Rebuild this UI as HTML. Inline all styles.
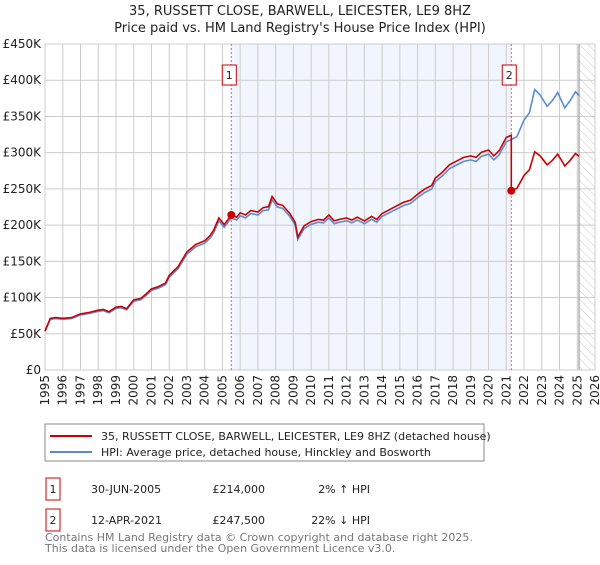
<!DOCTYPE html>
<html><head><meta charset="utf-8"><style>
body{margin:0;background:#fff;font-family:"Liberation Sans","DejaVu Sans",sans-serif;overflow:hidden;}
svg text{font-family:"DejaVu Sans","Liberation Sans",sans-serif;}
</style></head><body>
<svg width="600" height="560" viewBox="0 0 600 560" xmlns="http://www.w3.org/2000/svg">
<defs><pattern id="hatch" width="6" height="6" patternUnits="userSpaceOnUse" patternTransform="rotate(-45)"><line x1="0" y1="0" x2="0" y2="6" stroke="#bbb" stroke-width="0.8"/></pattern></defs>
<text x="300" y="15" text-anchor="middle" font-size="13" fill="#222">35, RUSSETT CLOSE, BARWELL, LEICESTER, LE9 8HZ</text>
<text x="300" y="32" text-anchor="middle" font-size="13" fill="#222">Price paid vs. HM Land Registry's House Price Index (HPI)</text>
<g id="plot"></g>
<rect x="45" y="424" width="439" height="37" fill="#fff" stroke="#888"/>
<line x1="50" y1="436" x2="92" y2="436" stroke="#cc0000" stroke-width="2"/>
<text x="101" y="440" font-size="11" fill="#222">35, RUSSETT CLOSE, BARWELL, LEICESTER, LE9 8HZ (detached house)</text>
<line x1="50" y1="452" x2="92" y2="452" stroke="#5b8bd0" stroke-width="2"/>
<text x="101" y="456" font-size="11" fill="#222">HPI: Average price, detached house, Hinckley and Bosworth</text>
<g font-size="11" fill="#222">
<rect x="46" y="478" width="14" height="22" fill="#fff" stroke="#cc0000"/>
<text x="53" y="493" text-anchor="middle">1</text>
<text x="91" y="493">30-JUN-2005</text>
<text x="265" y="493" text-anchor="end">£214,000</text>
<text x="370" y="493" text-anchor="end">2% ↑ HPI</text>
<rect x="46" y="509" width="14" height="22" fill="#fff" stroke="#cc0000"/>
<text x="53" y="524" text-anchor="middle">2</text>
<text x="91" y="524">12-APR-2021</text>
<text x="265" y="524" text-anchor="end">£247,500</text>
<text x="370" y="524" text-anchor="end">22% ↓ HPI</text>
</g>
<text x="45" y="541" font-size="11" fill="#777">Contains HM Land Registry data © Crown copyright and database right 2025.</text>
<text x="45" y="552" font-size="11" fill="#777">This data is licensed under the Open Government Licence v3.0.</text>
</svg>
<script>
const hpiYears=[1995,1995.3,1995.6,1996,1996.5,1997,1997.5,1998,1998.3,1998.6,1999,1999.3,1999.6,2000,2000.4,2000.7,2001,2001.4,2001.8,2002,2002.5,2003,2003.5,2004,2004.3,2004.5,2004.8,2005.1,2005.5,2005.8,2006,2006.3,2006.6,2007,2007.3,2007.6,2007.8,2008.1,2008.4,2008.8,2009.1,2009.25,2009.6,2010,2010.4,2010.7,2011,2011.3,2011.6,2012,2012.3,2012.6,2013,2013.4,2013.7,2014,2014.4,2014.8,2015.2,2015.6,2016,2016.4,2016.8,2017,2017.4,2017.8,2018.2,2018.6,2019,2019.3,2019.6,2020,2020.3,2020.6,2021,2021.28,2021.6,2022,2022.3,2022.6,2022.9,2023.3,2023.6,2023.9,2024.3,2024.6,2024.9,2025.1];
const hpiValues=[53000,70000,71000,70000,71000,76000,78000,81000,82000,79000,85000,86000,83000,95000,97000,103000,110000,113000,118000,128000,140000,160000,170000,175000,182000,189000,206000,197000,210000,207000,213000,210000,216000,214000,220000,221000,235000,225000,223000,212000,200000,180000,195000,201000,204000,203000,210000,202000,204000,206000,203000,207000,202000,208000,204000,212000,217000,222000,227000,230000,238000,245000,250000,260000,268000,278000,283000,288000,290000,288000,295000,298000,290000,297000,315000,318000,322000,345000,355000,387000,380000,364000,372000,383000,362000,372000,384000,379000];
const saleYears=[2005.5,2021.28];
const salePrices=[214000,247500];
const yTicks=[0,50000,100000,150000,200000,250000,300000,350000,400000,450000];
const yTickLabels=["£0","£50K","£100K","£150K","£200K","£250K","£300K","£350K","£400K","£450K"];
const xTicks=[1995,1996,1997,1998,1999,2000,2001,2002,2003,2004,2005,2006,2007,2008,2009,2010,2011,2012,2013,2014,2015,2016,2017,2018,2019,2020,2021,2022,2023,2024,2025,2026];

const L=45,R=595,T=44,B=370;
const xs=y=>L+(y-1995)/31*(R-L);
const ys=v=>B-v/450000*(B-T);
const NS="http://www.w3.org/2000/svg";
const g=document.getElementById('plot');
function mk(tag,attrs,parent){const e=document.createElementNS(NS,tag);for(const k in attrs)e.setAttribute(k,attrs[k]);(parent||g).appendChild(e);return e;}
function hpiAt(y){for(let i=1;i<hpiYears.length;i++){if(y<=hpiYears[i]){const t=(y-hpiYears[i-1])/(hpiYears[i]-hpiYears[i-1]);return hpiValues[i-1]+t*(hpiValues[i]-hpiValues[i-1]);}}return hpiValues[hpiValues.length-1];}

let r=mk('rect',{x:L,y:T,width:R-L,height:B-T,fill:'#fff'});


let sh=mk('rect',{x:xs(saleYears[0]),y:T,width:xs(saleYears[1])-xs(saleYears[0]),height:B-T,fill:'#eef2fc',opacity:0.8});


let ht=mk('rect',{x:xs(2025.1),y:T,width:R-xs(2025.1),height:B-T,fill:'url(#hatch)'});


yTicks.forEach((v,i)=>{
  let l=mk('line',{x1:L,x2:R,y1:ys(v),y2:ys(v),stroke:'#ccc','stroke-width':1});
  
  
  let t=mk('text',{x:L-4,y:ys(v)+4,'text-anchor':'end','font-size':12,fill:'#222'});
  t.textContent=yTickLabels[i];
  
  
});
xTicks.forEach(y=>{
  let l=mk('line',{x1:xs(y),x2:xs(y),y1:T,y2:B,stroke:'#ccc','stroke-width':1});
  
  
  let t=mk('text',{x:0,y:0,'text-anchor':'end','font-size':12,fill:'#222',transform:`translate(${xs(y)+4},${B+5}) rotate(-90)`});
  t.textContent=y;
  
  
});
let el=mk('line',{x1:xs(2025.1),x2:xs(2025.1),y1:T,y2:B,stroke:'#888','stroke-width':1});


let bd=mk('rect',{x:L,y:T,width:R-L,height:B-T,fill:'none',stroke:'#ccc'});



saleYears.forEach((y,i)=>{
  let l=mk('line',{x1:xs(y),x2:xs(y),y1:T,y2:B,stroke:'#e06060','stroke-width':1,'stroke-dasharray':'2,2'});
  
  
  let b=mk('rect',{x:xs(y)-9,y:65,width:14,height:20,fill:'#fff',stroke:'#cc0000'});
  
  
  let t=mk('text',{x:xs(y)-2,y:79,'text-anchor':'middle','font-size':11,fill:'#222'});
  t.textContent=String(i+1);
  
  
});

let hp=hpiYears.map((y,i)=>`${xs(y).toFixed(1)},${ys(hpiValues[i]).toFixed(1)}`).join(' ');
let hl=mk('polyline',{points:hp,fill:'none',stroke:'#5b8bd0','stroke-width':1.6});



const r1=salePrices[0]/hpiAt(saleYears[0]), r2=salePrices[1]/hpiAt(saleYears[1]);
let pts=[];
hpiYears.forEach((y,i)=>{
  if(y<saleYears[1]) pts.push([y,hpiValues[i]*r1]);
  else { if(y===saleYears[1]){pts.push([y,hpiValues[i]*r1]);} pts.push([y,hpiValues[i]*r2]); }
});
let pl=mk('polyline',{points:pts.map(p=>`${xs(p[0]).toFixed(1)},${ys(p[1]).toFixed(1)}`).join(' '),fill:'none',stroke:'#cc0000','stroke-width':1.6});


saleYears.forEach((y,i)=>{
  let c=mk('circle',{cx:xs(y),cy:ys(salePrices[i]),r:4,fill:'#cc0000'});
  
  
});
</script>
</body></html>
